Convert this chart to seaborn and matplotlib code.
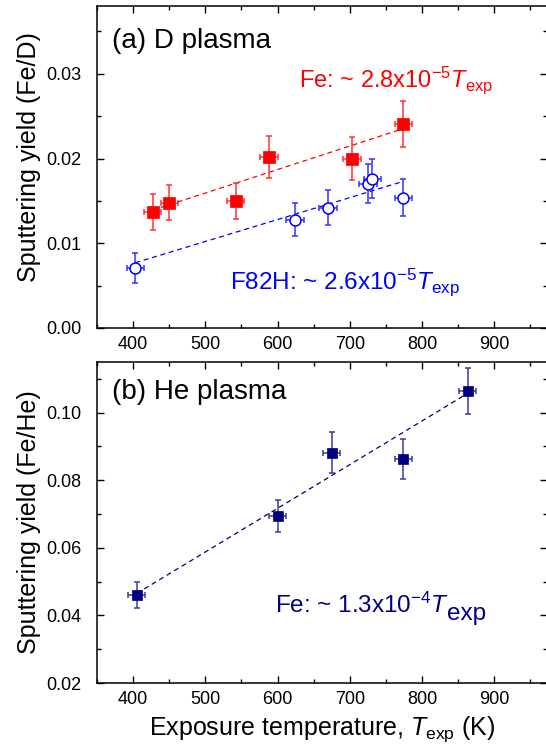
import numpy as np
import matplotlib
matplotlib.use("Agg")
import matplotlib.pyplot as plt
import seaborn as sns
from matplotlib.ticker import MultipleLocator, FormatStrFormatter

# (a) D plasma, Fe (filled red squares)
fe_d_T = [427, 450, 542, 588, 703, 774]
fe_d_y = [0.0137, 0.0148, 0.0150, 0.0202, 0.0200, 0.0241]
fe_d_yerr = [0.0021, 0.0021, 0.0021, 0.0025, 0.0025, 0.0027]

# (a) D plasma, F82H (open blue circles)
f82h_T = [403, 624, 670, 725, 731, 774]
f82h_y = [0.0071, 0.0128, 0.0142, 0.0170, 0.0176, 0.0154]
f82h_yerr = [0.0018, 0.0020, 0.0021, 0.0023, 0.0023, 0.0022]

# (b) He plasma, Fe (navy squares)
fe_he_T = [405, 600, 675, 774, 863]
fe_he_y = [0.0460, 0.0694, 0.0882, 0.0863, 0.1063]
fe_he_yerr = [0.0038, 0.0048, 0.0060, 0.0060, 0.0068]

T_err = 12

# linear fits (end points)
fe_d_fit_T = [427, 773]
fe_d_fit_y = [0.0139, 0.0235]
f82h_fit_T = [403, 770]
f82h_fit_y = [0.0077, 0.0172]
fe_he_fit_T = [405, 863]
fe_he_fit_y = [0.0465, 0.1057]

sns.set_theme(style="ticks")
plt.rcParams['font.family'] = ['Liberation Sans', 'DejaVu Sans']
plt.rcParams['mathtext.fontset'] = 'custom'
plt.rcParams['mathtext.rm'] = 'Liberation Sans'
plt.rcParams['mathtext.it'] = 'Liberation Sans:italic'
plt.rcParams['mathtext.bf'] = 'Liberation Sans:bold'
for k in ['text.color', 'axes.labelcolor', 'xtick.color', 'ytick.color', 'axes.edgecolor']:
    plt.rcParams[k] = 'black'

fig = plt.figure(figsize=(5.46, 7.51), dpi=100)
W, H = 546, 751
left, right = 97, 547
ax1 = fig.add_axes([left / W, (H - 328) / H, (right - left) / W, (328 - 6) / H])
ax2 = fig.add_axes([left / W, (H - 683) / H, (right - left) / W, (683 - 362) / H])

# ---- panel (a)
sns.lineplot(x=fe_d_fit_T, y=fe_d_fit_y, color='red', linestyle=(0, (4, 3)), lw=0.9, ax=ax1)
sns.lineplot(x=f82h_fit_T, y=f82h_fit_y, color='blue', linestyle=(0, (4, 3)), lw=0.9, ax=ax1)
ax1.errorbar(fe_d_T, fe_d_y, xerr=T_err, yerr=fe_d_yerr, fmt='none', ecolor='#ff3333',
             elinewidth=1.1, capsize=2.5, capthick=1.1, zorder=2)
ax1.errorbar(f82h_T, f82h_y, xerr=T_err, yerr=f82h_yerr, fmt='none', ecolor='#3333ff',
             elinewidth=1.1, capsize=2.5, capthick=1.1, zorder=2)
sns.scatterplot(x=fe_d_T, y=fe_d_y, marker='s', s=66, color='red', edgecolor='red', linewidth=0.5,
                ax=ax1, zorder=3)
sns.scatterplot(x=f82h_T, y=f82h_y, marker='o', s=62, facecolor='white', edgecolor='blue', linewidth=1.1,
                ax=ax1, zorder=3)

ax1.text(0.033, 0.870, '(a) D plasma', transform=ax1.transAxes, fontsize=20, va='baseline')
ax1.text(0.449, 0.747, r'Fe: ~ 2.8x10$^{-5}$$\mathit{T}_{\mathrm{exp}}$', transform=ax1.transAxes,
         fontsize=17, color='red', va='baseline')
ax1.text(0.296, 0.121, r'F82H: ~ 2.6x10$^{-5}$$\mathit{T}_{\mathrm{exp}}$', transform=ax1.transAxes,
         fontsize=17.5, color='blue', va='baseline')

ax1.set_ylim(0, 0.038)
ax1.yaxis.set_major_locator(MultipleLocator(0.01))
ax1.yaxis.set_minor_locator(MultipleLocator(0.005))
ax1.set_ylabel('Sputtering yield (Fe/D)', fontsize=18)
ax1.yaxis.set_label_coords(-0.125, 0.53)

# ---- panel (b)
sns.lineplot(x=fe_he_fit_T, y=fe_he_fit_y, color='#000080', linestyle=(0, (4, 3)), lw=0.9, ax=ax2)
ax2.errorbar(fe_he_T, fe_he_y, xerr=T_err, yerr=fe_he_yerr, fmt='none', ecolor='#3a3aa0',
             elinewidth=1.1, capsize=2.5, capthick=1.1, zorder=2)
sns.scatterplot(x=fe_he_T, y=fe_he_y, marker='s', s=60, color='#000080', edgecolor='#000080', linewidth=0.5,
                ax=ax2, zorder=3)

ax2.text(0.033, 0.885, '(b) He plasma', transform=ax2.transAxes, fontsize=20, va='baseline')
t = ax2.text(0.396, 0.217, r'Fe: ~ 1.3x10$^{-4}$$\mathit{T}$', transform=ax2.transAxes,
             fontsize=17.5, color='#000080', va='baseline')
ax2.annotate('exp', xy=(1.0, 0.0), xycoords=t, xytext=(-1.5, -1.5), textcoords='offset points',
             fontsize=17.5, color='#000080', va='baseline', ha='left')

ax2.set_ylim(0.02, 0.115)
ax2.yaxis.set_major_locator(MultipleLocator(0.02))
ax2.yaxis.set_minor_locator(MultipleLocator(0.01))
ax2.set_ylabel('Sputtering yield (Fe/He)', fontsize=18)
ax2.yaxis.set_label_coords(-0.125, 0.5)
ax2.set_xlabel(r'Exposure temperature, $\mathit{T}_{\mathrm{exp}}$ (K)', fontsize=18, labelpad=4)

for ax in (ax1, ax2):
    ax.set_xlim(350, 973)
    ax.xaxis.set_major_locator(MultipleLocator(100))
    ax.xaxis.set_minor_locator(MultipleLocator(50))
    ax.yaxis.set_major_formatter(FormatStrFormatter('%.2f'))
    ax.tick_params(which='both', direction='in', top=True, right=True, labelsize=13, color='black')
    ax.tick_params(which='major', length=5, width=1)
    ax.tick_params(axis='x', which='major', pad=6)
    ax.tick_params(axis='y', which='major', pad=11)
    ax.tick_params(which='minor', length=3, width=1)
    for sp in ax.spines.values():
        sp.set_linewidth(1.1)
        sp.set_color('black')
    ax.set_facecolor('white')

fig.savefig('out.png', dpi=100)
